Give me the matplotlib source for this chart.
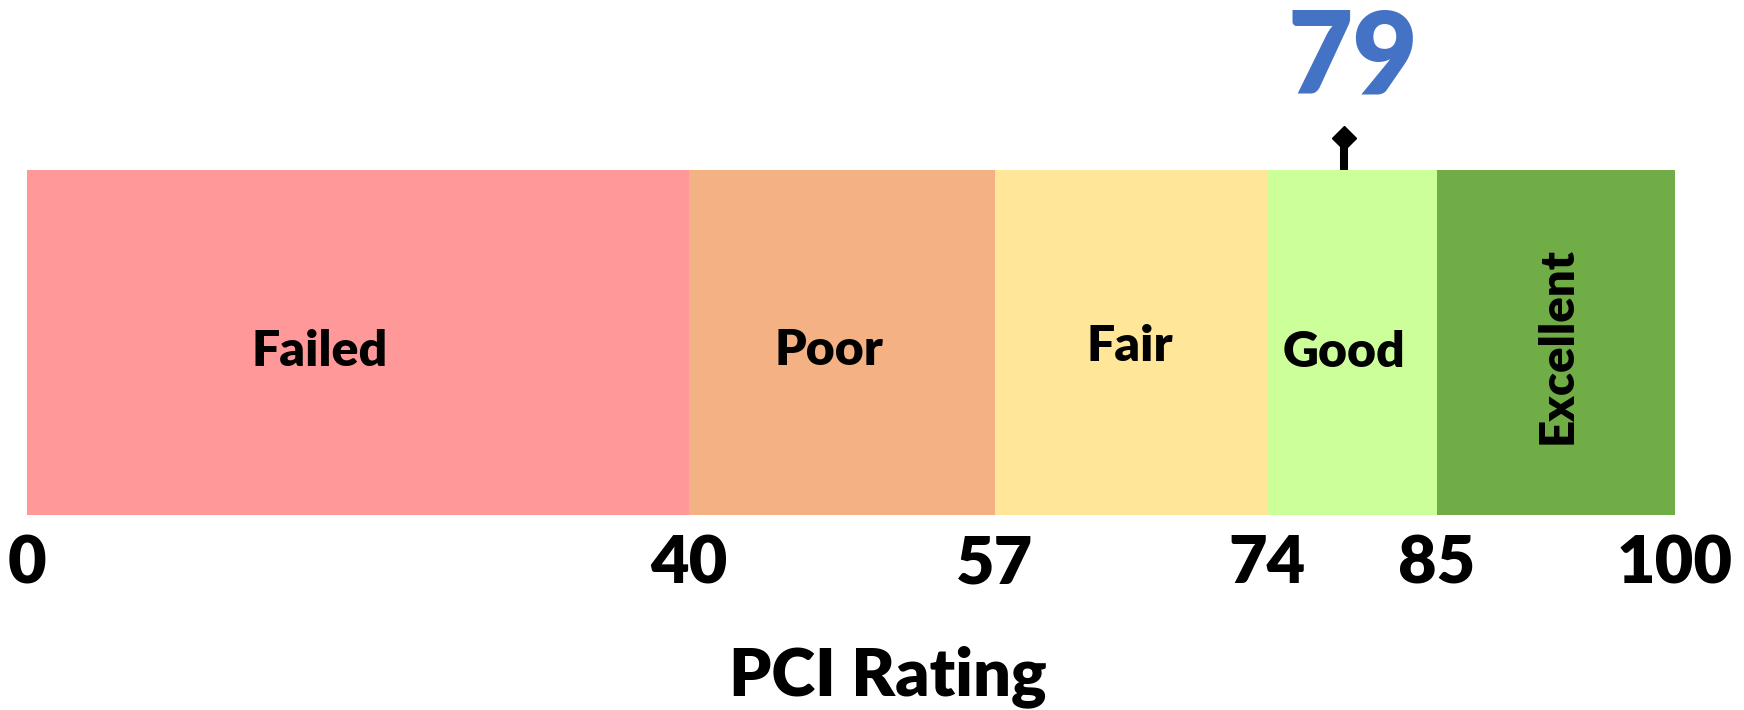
"""PCI rating scale — segmented bar with a marker at the current score."""

import matplotlib
matplotlib.use("Agg")
import matplotlib.pyplot as plt
import numpy as np

# data
categories = ["Failed", "Poor", "Fair", "Good", "Excellent"]
bounds = [0, 40, 57, 74, 85, 100]
tick_labels = ["0", "40", "57", "74", "85", "100"]
colors = ["#FF9999", "#F4B183", "#FFE699", "#CCFF99", "#70AD47"]
score = 79

# the segments are not drawn to a linear scale in the original:
# where each bound sits along the bar (percent of bar length)
drawn_at = [0, 40.17, 58.74, 75.24, 85.56, 100]


def fwd(v):
    return np.interp(v, bounds, drawn_at)


def inv(v):
    return np.interp(v, drawn_at, bounds)


plt.rcParams["font.family"] = ["Lato", "DejaVu Sans"]
plt.rcParams["font.weight"] = "heavy"
W = "heavy"

fig = plt.figure(figsize=(17.44, 7.10), dpi=100)
ax = fig.add_axes([27 / 1744, 1 - 515 / 710, 1648 / 1744, 345 / 710])
ax.set_xscale("function", functions=(fwd, inv))

starts = np.array(bounds[:-1])
widths = np.diff(bounds)
ax.barh(0.5, widths, left=starts, height=1.0, color=colors, linewidth=0)

ax.set_xlim(0, 100)
ax.set_ylim(0, 1)

# category labels
label_x = [17.7, 47.8, 65.4, 79.0]
label_y = [0.432, 0.435, 0.447, 0.43]
for name, x, y in zip(categories[:4], label_x, label_y):
    ax.text(x, y, name, ha="center", va="baseline", fontsize=36,
            fontweight=W, color="black")
ax.text(92.6, 0.49, categories[4], ha="center", va="center", rotation=90,
        fontsize=34, fontweight=W, color="black")

# score marker
ax.plot([score, score], [1.0, 1.075], color="black", linewidth=5.8,
        solid_capstyle="butt", clip_on=False)
ax.plot([score], [1.094], marker="D", markersize=12, color="black",
        clip_on=False)
ax.annotate(str(score), (score, 1.223), xytext=(6, 0), textcoords="offset points",
            ha="center", va="baseline", fontsize=81, fontweight=W,
            color="#4472C4", annotation_clip=False)

ax.set_xticks(bounds)
ax.set_xticklabels(tick_labels, fontsize=48, fontweight=W)
ax.xaxis.set_minor_locator(matplotlib.ticker.NullLocator())
ax.tick_params(axis="x", length=0, pad=13)
ax.set_yticks([])
for s in ax.spines.values():
    s.set_visible(False)

ax.set_xlabel("PCI Rating", fontsize=48, fontweight=W, va="baseline")
ax.xaxis.set_label_coords(0.5225, -0.522)

fig.savefig("out.png", dpi=100)
